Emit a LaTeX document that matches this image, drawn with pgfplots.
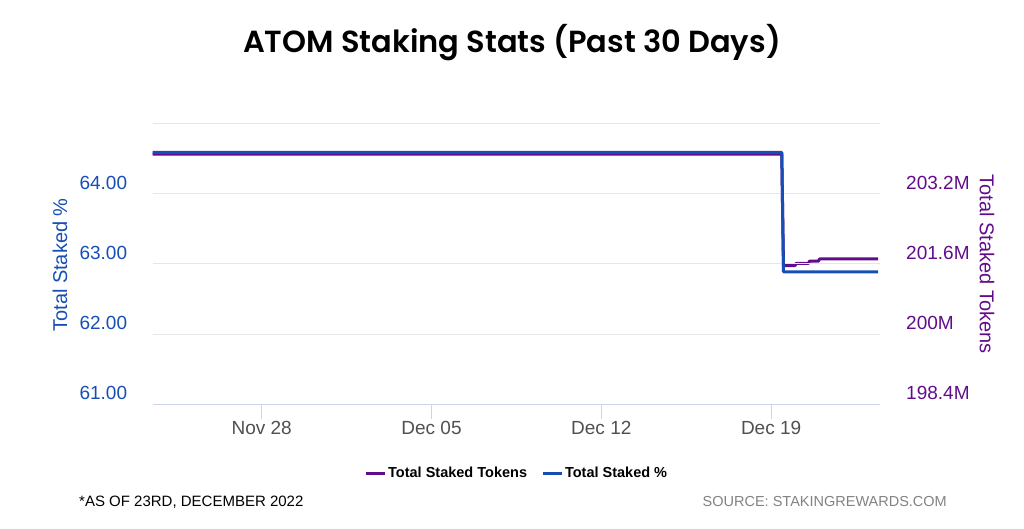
\documentclass[border=0pt]{standalone}
\usepackage{pgfplots}
\pgfplotsset{compat=1.18}
\usepackage{fontspec}
\setmainfont{Liberation Sans}
\newfontfamily\poppins{Poppins SemiBold}
\definecolor{cblue}{RGB}{22,78,182}
\definecolor{cpurple}{RGB}{98,12,140}
\definecolor{axiscol}{RGB}{204,214,235}
\definecolor{gridcol}{RGB}{230,230,230}
\definecolor{xlab}{RGB}{80,80,80}
\definecolor{srcgray}{RGB}{130,130,130}
\begin{document}
\begin{tikzpicture}
\useasboundingbox (0,0) rectangle (1024pt,529pt);
% right axis (purple), drawn first
\begin{axis}[
  at={(153.3pt,124.7pt)}, anchor=south west,
  scale only axis, width=726.7pt, height=281pt,
  xmin=-4.47, xmax=25.49, ymin=198.4, ymax=204.8,
  clip=false,
  axis x line=none,
  axis y line*=right, y axis line style={draw=none},
  ytick={198.4,200,201.6,203.2,204.8},
  yticklabels={198.4M,200M,201.6M,203.2M,{}},
  ytick style={draw=none},
  yticklabel style={anchor=west, inner sep=0pt, xshift=26pt, yshift=11pt,
     text=cpurple, font=\fontsize{19}{22}\selectfont},
]
\addplot[cpurple, line width=3pt, line join=round] coordinates {
(-4.5,204.10) (21.44,204.10) (21.51,201.56) (21.99,201.56) (22.03,201.61)
(22.54,201.61) (22.58,201.66) (22.95,201.66) (23.0,201.71) (25.41,201.71)};
\end{axis}
% left axis (blue)
\begin{axis}[
  at={(153.3pt,124.7pt)}, anchor=south west,
  scale only axis, width=726.7pt, height=281pt,
  xmin=-4.47, xmax=25.49, ymin=61, ymax=65,
  clip=false,
  axis x line*=bottom, x axis line style={draw=axiscol, line width=1pt},
  axis y line*=left, y axis line style={draw=none},
  xtick={0,7,14,21}, xticklabels={Nov 28,Dec 05,Dec 12,Dec 19},
  tick align=outside, major tick length=15pt,
  xtick style={draw=axiscol, line width=1pt},
  xticklabel style={text=xlab, font=\fontsize{19}{22}\selectfont, yshift=2pt},
  ytick={61,62,63,64,65},
  yticklabels={61.00,62.00,63.00,64.00,{}},
  ytick style={draw=none},
  yticklabel style={anchor=east, inner sep=0pt, xshift=-11pt, yshift=11pt,
     text=cblue, font=\fontsize{19}{22}\selectfont},
  ymajorgrids, grid style={gridcol, line width=1pt},
  legend columns=2,
  legend style={at={(0.5,-0.2445)}, anchor=center, draw=none, fill=none,
     font=\fontsize{14.5}{16}\selectfont\bfseries, inner sep=0pt,
     /tikz/every even column/.append style={column sep=12pt}},
  legend image code/.code={\draw[#1, line width=3pt] (0pt,0pt) -- (19pt,0pt);},
]
\addlegendimage{cpurple}
\addlegendentry{Total Staked Tokens}
\addplot[cblue, line width=3pt, line join=round] coordinates {
(-4.5,64.586) (21.44,64.586) (21.51,62.886) (25.41,62.886)};
\addlegendentry{Total Staked \%}
\end{axis}
\node[rotate=90, text=cblue, font=\fontsize{20}{24}\selectfont] at (60pt,264pt) {Total Staked \%};
\node[rotate=-90, text=cpurple, font=\fontsize{20}{24}\selectfont] at (987pt,265pt) {Total Staked Tokens};
\node[font=\poppins\fontsize{30.5}{34}\selectfont] at (512pt,486pt) {ATOM Staking Stats (Past 30 Days)};
\node[anchor=west, font=\fontsize{15}{18}\selectfont, inner sep=0pt] at (79pt,27pt) {*AS OF 23RD, DECEMBER 2022};
\node[anchor=east, text=srcgray, font=\fontsize{14.5}{18}\selectfont, inner sep=0pt] at (947pt,27pt) {SOURCE: STAKINGREWARDS.COM};
\end{tikzpicture}
\end{document}
